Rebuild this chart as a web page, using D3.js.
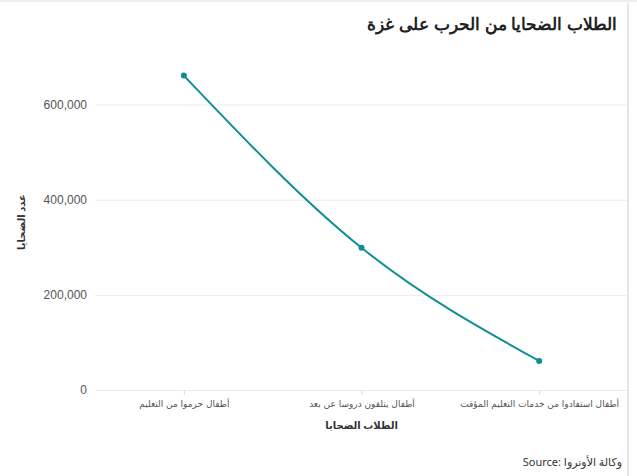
<!DOCTYPE html>
<html lang="ar">
<head>
<meta charset="UTF-8">
<script src="https://d3js.org/d3.v7.min.js"></script>
<style>
  body { margin: 0; background: #fff; font-family: "Noto Sans", "DejaVu Sans", sans-serif; }
  .grid line { stroke: #ebebeb; }
  .axis text { fill: #555; }
</style>
</head>
<body>
<svg width="637" height="476"></svg>
<script>
  // chart data
  const categories = ["أطفال حرموا من التعليم", "أطفال يتلقون دروسا عن بعد", "أطفال استفادوا من خدمات التعليم المؤقت"];
  const victims = [661000, 299000, 61000];
  const yTicks = [0, 200000, 400000, 600000];

  const svg = d3.select("svg");
  const margin = { top: 57, right: 9, bottom: 86, left: 95 };
  const width = 637 - margin.left - margin.right,
        height = 476 - margin.top - margin.bottom;

  // frame edges
  svg.append("line").attr("x1", 628).attr("x2", 628).attr("y1", 3).attr("y2", 476)
    .attr("stroke", "#e6e6e6").attr("stroke-width", 2);
  svg.append("line").attr("x1", 0).attr("x2", 637).attr("y1", 1).attr("y2", 1)
    .attr("stroke", "#eee").attr("stroke-width", 2);

  svg.append("text").attr("x", 617).attr("y", 30).attr("text-anchor", "end")
    .attr("font-family", "Liberation Sans, Arial, sans-serif")
    .attr("font-size", 17).attr("font-weight", "bold").attr("fill", "#222")
    .text("الطلاب الضحايا من الحرب على غزة");

  const g = svg.append("g").attr("transform", `translate(${margin.left},${margin.top})`);

  const x = d3.scalePoint().domain(categories).range([0, width]).padding(0.5);
  const y = d3.scaleLinear().domain([0, 700000]).range([height, 0]);

  g.append("g").attr("class", "grid")
    .call(d3.axisLeft(y).tickValues(yTicks).tickSize(-width).tickFormat(""))
    .call(a => a.select(".domain").remove());

  g.append("g").attr("class", "axis")
    .call(d3.axisLeft(y).tickValues(yTicks).tickSize(0).tickPadding(8).tickFormat(d3.format(",")))
    .call(a => a.select(".domain").remove())
    .selectAll("text").attr("font-size", 12);

  const xa = g.append("g").attr("class", "axis").attr("transform", `translate(0,${height})`)
    .call(d3.axisBottom(x).tickSize(5).tickPadding(6));
  xa.select(".domain").remove();
  xa.selectAll("line").attr("stroke", "#ddd");
  xa.selectAll("text").attr("font-size", 9).attr("fill", "#333")
    .attr("font-family", "DejaVu Sans, sans-serif");

  const line = d3.line().x((d, i) => x(categories[i])).y(d => y(d)).curve(d3.curveMonotoneX);
  g.append("path").datum(victims).attr("d", line)
    .attr("fill", "none").attr("stroke", "#0e8f94").attr("stroke-width", 2);
  g.selectAll("circle").data(victims).join("circle")
    .attr("cx", (d, i) => x(categories[i])).attr("cy", d => y(d)).attr("r", 3)
    .attr("fill", "#0e8f94");

  svg.append("text").attr("x", margin.left + width / 2).attr("y", 429).attr("text-anchor", "middle")
    .attr("font-size", 10).attr("font-weight", "bold").attr("fill", "#333")
    .text("الطلاب الضحايا");
  svg.append("text").attr("transform", "translate(25,222) rotate(-90)").attr("text-anchor", "middle")
    .attr("font-size", 10).attr("font-weight", "bold").attr("fill", "#333")
    .text("عدد الضحايا");

  svg.append("text").attr("x", 622).attr("y", 466).attr("text-anchor", "end")
    .attr("font-size", 11).attr("fill", "#333")
    .text("Source: وكالة الأونروا");
</script>
</body>
</html>
